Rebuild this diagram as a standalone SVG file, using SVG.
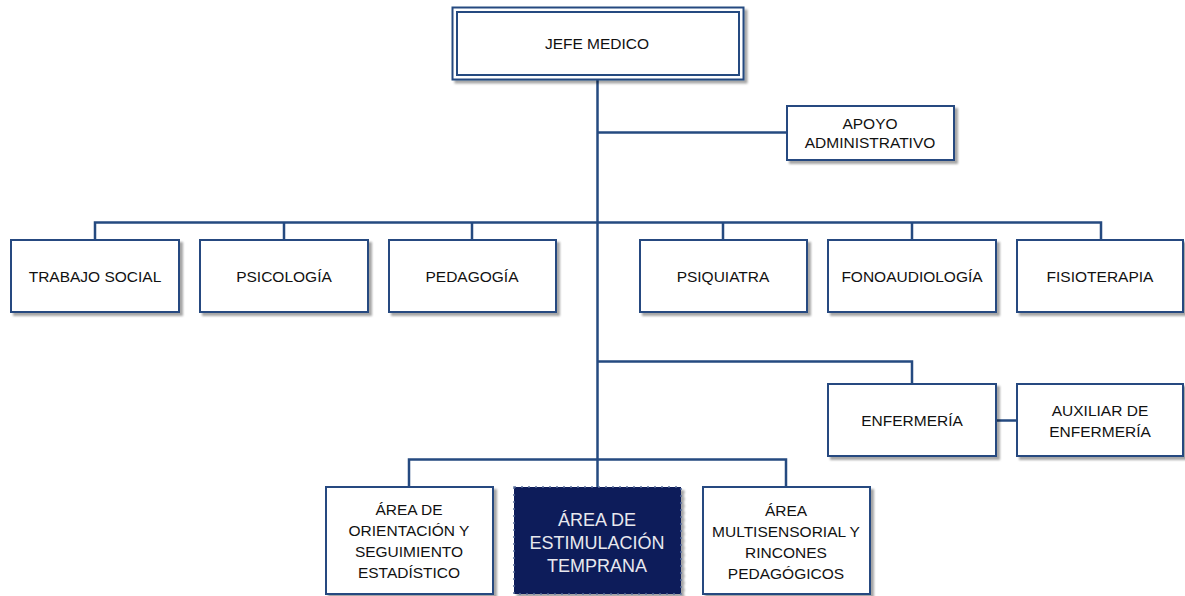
<svg xmlns="http://www.w3.org/2000/svg" width="1185" height="596" viewBox="0 0 1185 596">
<style>
.box{fill:#ffffff;stroke:#254a80;stroke-width:2;filter:url(#sh)}
.dark{fill:#0c1f5a;stroke:#5a6f9a;stroke-width:1.5;stroke-dasharray:2 5;filter:url(#sh)}
.ln{fill:none;stroke:#254a80;stroke-width:2.5}
text{font-family:"Liberation Sans",Arial,sans-serif;font-size:15.5px;fill:#111111;text-anchor:middle}
.w{fill:#e8e8ee;font-size:18px}
</style>
<defs>
<filter id="sh" x="-10%" y="-10%" width="130%" height="140%">
<feDropShadow dx="3" dy="3" stdDeviation="1.2" flood-color="#000" flood-opacity="0.35"/>
</filter>
</defs>
<rect width="1185" height="596" fill="#ffffff"/>
<g id="connectors">
<path class="ln" d="M597.5 79V487"/>
<path class="ln" d="M597.5 132.5H787"/>
<path class="ln" d="M95 240V222.5H1101V240"/>
<path class="ln" d="M284 222.5V240M472 222.5V240M723 222.5V240M912 222.5V240"/>
<path class="ln" d="M597.5 361.5H912V384"/>
<path class="ln" d="M996 420.5H1017"/>
<path class="ln" d="M409 487V459.5H786V487"/>
</g>
<g id="jefe">
<rect class="box" x="452.5" y="7.5" width="291" height="72"/>
<rect x="457" y="12" width="282" height="63" fill="none" stroke="#254a80" stroke-width="2"/>
<text x="597" y="49">JEFE MEDICO</text>
</g>
<g id="apoyo">
<rect class="box" x="787" y="106" width="167" height="54"/>
<text x="870" y="129">APOYO</text>
<text x="870" y="148">ADMINISTRATIVO</text>
</g>
<g id="trabajo">
<rect class="box" x="11" y="240" width="168" height="72"/>
<text x="95" y="282">TRABAJO SOCIAL</text>
</g>
<g id="psicologia">
<rect class="box" x="200" y="240" width="168" height="72"/>
<text x="284" y="282">PSICOLOGÍA</text>
</g>
<g id="pedagogia">
<rect class="box" x="389" y="240" width="167" height="72"/>
<text x="472" y="282">PEDAGOGÍA</text>
</g>
<g id="psiquiatra">
<rect class="box" x="640" y="240" width="167" height="72"/>
<text x="723" y="282">PSIQUIATRA</text>
</g>
<g id="fono">
<rect class="box" x="828" y="240" width="168" height="72"/>
<text x="912" y="282">FONOAUDIOLOGÍA</text>
</g>
<g id="fisio">
<rect class="box" x="1017" y="240" width="166" height="72"/>
<text x="1100" y="282">FISIOTERAPIA</text>
</g>
<g id="enfermeria">
<rect class="box" x="828" y="384" width="168" height="72"/>
<text x="912" y="426">ENFERMERÍA</text>
</g>
<g id="auxiliar">
<rect class="box" x="1017" y="384" width="166" height="72"/>
<text x="1100" y="416">AUXILIAR DE</text>
<text x="1100" y="437">ENFERMERÍA</text>
</g>
<g id="orientacion">
<rect class="box" x="326" y="487" width="167" height="107"/>
<text x="409" y="515">ÁREA DE</text>
<text x="409" y="536">ORIENTACIÓN Y</text>
<text x="409" y="557">SEGUIMIENTO</text>
<text x="409" y="578">ESTADÍSTICO</text>
</g>
<g id="estimulacion">
<rect class="dark" x="514" y="487" width="167" height="107"/>
<text class="w" x="597" y="526">ÁREA DE</text>
<text class="w" x="597" y="549">ESTIMULACIÓN</text>
<text class="w" x="597" y="572">TEMPRANA</text>
</g>
<g id="multisensorial">
<rect class="box" x="703" y="487" width="167" height="107"/>
<text x="786" y="516">ÁREA</text>
<text x="786" y="537">MULTISENSORIAL Y</text>
<text x="786" y="558">RINCONES</text>
<text x="786" y="579">PEDAGÓGICOS</text>
</g>
</svg>
